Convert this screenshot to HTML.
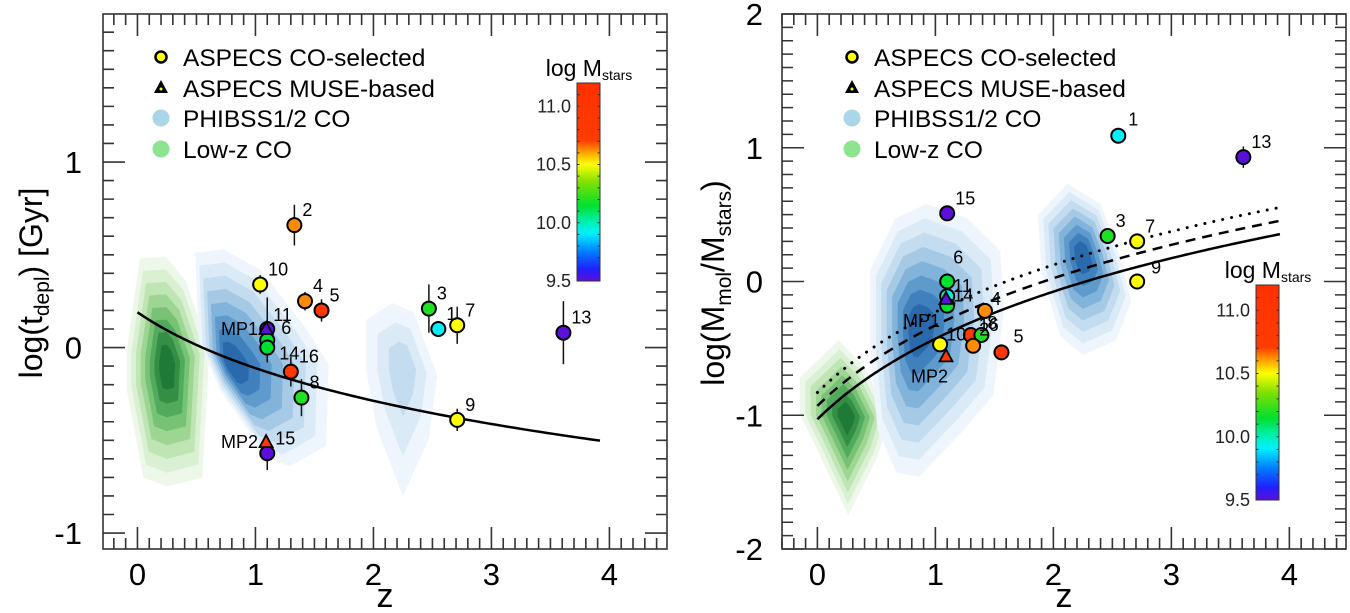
<!DOCTYPE html>
<html><head><meta charset="utf-8"><style>
body{margin:0;background:#fff}
svg{display:block;font-family:"Liberation Sans",sans-serif}
</style></head><body>
<svg id="fig" width="1350" height="613" viewBox="0 0 1350 613">
<defs>
<linearGradient id="cmap" x1="0" y1="1" x2="0" y2="0">
<stop offset="0" stop-color="#5b0fd8"/><stop offset="0.06" stop-color="#2020ff"/>
<stop offset="0.15" stop-color="#0080ff"/><stop offset="0.24" stop-color="#00f0ff"/>
<stop offset="0.3" stop-color="#00f0b0"/><stop offset="0.38" stop-color="#00e030"/>
<stop offset="0.5" stop-color="#80e000"/><stop offset="0.59" stop-color="#ffff00"/>
<stop offset="0.65" stop-color="#ffa000"/><stop offset="0.71" stop-color="#ff3c00"/>
<stop offset="1" stop-color="#ff3000"/>
</linearGradient>
</defs>
</svg>
<script>
// ---------- data ----------
const leftNames = ["2","10","4","5","3","1","7","13","11","6","14","16","8","9","15"];
const leftZ     = [1.33,1.04,1.42,1.56,2.47,2.55,2.71,3.61,1.10,1.10,1.10,1.30,1.39,2.71,1.10];
const leftV     = [0.66,0.34,0.25,0.20,0.21,0.10,0.12,0.08,0.10,0.04,0.00,-0.13,-0.27,-0.39,-0.57];
const leftErr   = [0.11,0.05,0.05,0.06,0.13,0.03,0.10,0.17,0.17,0.05,0.08,0.08,0.10,0.06,0.09];
const leftMass  = [10.62,10.5,10.62,10.9,10.2,9.9,10.5,9.5,9.5,10.15,10.15,10.9,10.2,10.5,9.5];
const leftTriNames = ["MP1","MP2"];
const leftTriZ  = [1.09,1.09];
const leftTriV  = [0.10,-0.51];
const leftTriMass = [9.5,10.9];

const rightNames = ["1","13","15","3","7","9","6","11","14","4","16","8","2","10","5"];
const rightZ     = [2.55,3.61,1.10,2.46,2.71,2.71,1.10,1.10,1.10,1.42,1.30,1.39,1.32,1.04,1.56];
const rightV     = [1.09,0.93,0.51,0.34,0.30,0.00,0.00,-0.11,-0.18,-0.22,-0.40,-0.40,-0.48,-0.47,-0.53];
const rightErr   = [0.02,0.08,0.05,0.06,0.05,0.02,0.03,0.03,0.05,0.03,0.03,0.03,0.03,0.03,0.03];
const rightMass  = [9.9,9.5,9.5,10.2,10.5,10.5,10.15,9.95,10.15,10.62,10.9,10.2,10.62,10.5,10.9];
const rightTriNames = ["MP1","MP2"];
const rightTriZ  = [1.09,1.09];
const rightTriV  = [-0.13,-0.56];
const rightTriMass = [9.5,10.9];

const xTicks = [0,1,2,3,4];
const leftYTicks = [-1,0,1];
const rightYTicks = [-2,-1,0,1,2];
const cbarTicks = [9.5,10.0,10.5,11.0];

const leftModel = [0.19,-1.0];
const rightModelIntercepts = [-1.03,-0.93,-0.83];
const rightModelSlope = 2.0;

const lGreen = [[-0.09,-0.01],[0.02,0.48],[0.24,0.49],[0.41,0.36],[0.61,-0.02],[0.55,-0.70],[0.25,-0.75],[0.05,-0.70],[-0.09,-0.23]];
const lGreenC = [0.25,-0.1];
const lBlue1 = [[0.49,0.51],[0.73,0.53],[1.04,0.42],[1.41,0.12],[1.62,-0.09],[1.60,-0.53],[1.29,-0.64],[1.10,-0.59],[0.70,-0.23],[0.52,0.04]];
const lBlue1C = [0.78,-0.09];
const lBlue2 = [[1.94,0.15],[2.16,0.24],[2.34,0.19],[2.54,-0.15],[2.47,-0.49],[2.25,-0.80],[2.03,-0.44],[1.94,-0.13]];
const lBlue2C = [2.25,-0.1];
const rGreen = [[-0.15,-0.72],[0.18,-0.44],[0.39,-0.63],[0.61,-1.02],[0.51,-1.31],[0.26,-1.75],[0.01,-1.28],[-0.15,-0.99]];
const rGreenC = [0.25,-1.01];
const rBlue1 = [[0.45,0.09],[0.66,0.47],[0.92,0.58],[1.27,0.47],[1.55,0.23],[1.58,-0.23],[1.49,-0.85],[1.24,-1.11],[0.86,-1.46],[0.67,-1.43],[0.51,-1.11],[0.45,-0.53]];
const rBlue1C = [0.85,-0.35];
const rBlue2 = [[1.87,0.50],[2.12,0.73],[2.40,0.58],[2.56,0.20],[2.66,-0.15],[2.53,-0.44],[2.25,-0.55],[2.06,-0.41],[1.90,0.06]];
const rBlue2C = [2.25,0.20];

// ---------- helpers ----------
const NS="http://www.w3.org/2000/svg";
const svg=document.getElementById('fig');
function mk(tag,attrs,parent){const e=document.createElementNS(NS,tag);for(const k in attrs)e.setAttribute(k,attrs[k]);(parent||svg).appendChild(e);return e;}
function cmap(m){
  const st=[[9.5,[91,15,216]],[9.6,[32,32,255]],[9.75,[0,128,255]],[9.9,[0,240,255]],[10.0,[0,240,176]],[10.15,[0,224,48]],[10.35,[128,224,0]],[10.5,[255,255,0]],[10.6,[255,160,0]],[10.7,[255,60,0]],[11.2,[255,48,0]]];
  if(m<=st[0][0])return 'rgb('+st[0][1]+')';
  for(let i=1;i<st.length;i++){if(m<=st[i][0]){const t=(m-st[i-1][0])/(st[i][0]-st[i-1][0]);const c=st[i-1][1].map((a,j)=>Math.round(a+(st[i][1][j]-a)*t));return 'rgb('+c+')';}}
  return 'rgb('+st[st.length-1][1]+')';
}
const blues=['#eef5fc','#dbeaf7','#c4dcf0','#a6cae6','#82b3da','#5e9acc','#3f80bd','#2a69ab'];
const greens=['#eef8ea','#d9f0d2','#bfe5b5','#9dd593','#78c276','#52aa5c','#348f45','#1e7a36'];

function panel(cfg){
  const {x0,x1,y0,y1,zmin,zmax,vmin,vmax,id}=cfg;
  const X=z=>x0+(z-zmin)/(zmax-zmin)*(x1-x0);
  const Y=v=>y1-(v-vmin)/(vmax-vmin)*(y1-y0);
  const g=mk('g',{});
  
  
  return {X,Y,g};
}
function contour(P,poly,c,cols,name){
  const g=mk('g',{},P.g);
  
  
  const n=cols.length;
  cols.forEach((col,i)=>{
    const k=1-i/(n)*0.92;
    const pts=poly.map(p=>P.X(c[0]+(p[0]-c[0])*k)+','+P.Y(c[1]+(p[1]-c[1])*k)).join(' ');
    const pg=mk('polygon',{points:pts,fill:col,stroke:'none'},g);
    
    
  });
}
function frame(P,cfg,yTicks,yMinorStep,yLabelX){
  const {x0,x1,y0,y1,zmin,zmax,vmin,vmax,id}=cfg;
  const g=mk('g',{stroke:'#333','stroke-width':1.6,fill:'none'},P.g);
  
  
  mk('rect',{x:x0,y:y0,width:x1-x0,height:y1-y0},g);
  for(let z=Math.ceil(zmin*10)/10;z<=zmax+1e-9;z+=0.1){
    const zr=Math.round(z*10)/10;const maj=Math.abs(zr-Math.round(zr))<1e-6;const L=maj?22:11;const x=P.X(zr);
    mk('path',{d:`M${x},${y1}v${-L}M${x},${y0}v${L}`},g);
  }
  for(let v=Math.ceil(vmin/yMinorStep)*yMinorStep;v<=vmax+1e-9;v+=yMinorStep){
    const vr=Math.round(v*10)/10;const maj=Math.abs(vr-Math.round(vr))<1e-6;const L=maj?22:11;const y=P.Y(vr);
    mk('path',{d:`M${x0},${y}h${L}M${x1},${y}h${-L}`},g);
  }
  xTicks.forEach(t=>{const e=mk('text',{x:P.X(t),y:y1+36,'font-size':31,'text-anchor':'middle',fill:'#000'},P.g);e.textContent=t;
    });
  yTicks.forEach(t=>{const e=mk('text',{x:yLabelX,y:P.Y(t)+11,'font-size':31,'text-anchor':'end',fill:'#000'},P.g);e.textContent=t;
    });
  const xt=mk('text',{x:(x0+x1)/2,y:607,'font-size':34,'text-anchor':'middle',fill:'#000'},P.g);xt.textContent='z';
  
}
function errbars(P,zs,vs,es,name){
  zs.forEach((z,i)=>{const l=mk('line',{x1:P.X(z),x2:P.X(z),y1:P.Y(vs[i]-es[i]),y2:P.Y(vs[i]+es[i]),stroke:'#111','stroke-width':1.5},P.g);
    });
}
function points(P,names,zs,vs,ms,lab,name){
  zs.forEach((z,i)=>{
    const c=mk('circle',{cx:P.X(z),cy:P.Y(vs[i]),r:7,fill:cmap(ms[i]),stroke:'#000','stroke-width':2},P.g);
    
    
  });
  zs.forEach((z,i)=>{
    const o=lab[i]||[8,-9];
    const t=mk('text',{x:P.X(z)+o[0],y:P.Y(vs[i])+o[1],'font-size':18,fill:'#000'},P.g);t.textContent=names[i];
    
    
  });
}
function tris(P,names,zs,vs,ms,lab,name){
  zs.forEach((z,i)=>{
    const x=P.X(z),y=P.Y(vs[i]);
    const p=mk('polygon',{points:`${x},${y-7} ${x-6.5},${y+5} ${x+6.5},${y+5}`,fill:cmap(ms[i]),stroke:'#000','stroke-width':1.8},P.g);
    
    
    const o=lab[i];
    const t=mk('text',{x:x+o[0],y:y+o[1],'font-size':18,'text-anchor':'end',fill:'#000'},P.g);t.textContent=names[i];
    
    
  });
}
function legend(x,y,id){
  const g=mk('g',{},svg);
  const rows=['ASPECS CO-selected','ASPECS MUSE-based','PHIBSS1/2 CO','Low-z CO'];
  const dy=[0,31,61,92];
  mk('circle',{cx:x,cy:y,r:5.5,fill:'#ffff00',stroke:'#000','stroke-width':2.5},g);
  mk('polygon',{points:`${x},${y+dy[1]-8} ${x-7},${y+dy[1]+5} ${x+7},${y+dy[1]+5}`,fill:'#000'},g);
  mk('circle',{cx:x,cy:y+dy[1]+1,r:1.5,fill:'#ff0'},g);
  mk('circle',{cx:x,cy:y+dy[2],r:8.5,fill:'#a9d6e8'},g);
  mk('circle',{cx:x,cy:y+dy[3],r:8.5,fill:'#8de48f'},g);
  rows.forEach((r,i)=>{const t=mk('text',{x:x+22,y:y+dy[i]+9,'font-size':24.5,fill:'#000'},g);t.textContent=r;
    });
}
function colorbar(x,y0,y1,id){
  const g=mk('g',{},svg);
  mk('rect',{x:x,y:y0,width:23,height:y1-y0,fill:'url(#cmap)',stroke:'#333','stroke-width':1},g);
  const Yc=m=>y1-(m-9.5)/(11.2-9.5)*(y1-y0);
  for(let m=9.5;m<=11.2;m+=0.1){mk('path',{d:`M${x},${Yc(m)}h2.5M${x+23},${Yc(m)}h-2.5`,stroke:'#333','stroke-width':1},g);}
  cbarTicks.forEach(t=>{const e=mk('text',{x:x-6,y:Yc(t)+6,'font-size':18,'text-anchor':'end',fill:'#222'},g);e.textContent=t.toFixed(1);
    });
  const tt=mk('text',{x:x+12,y:y0-7,'font-size':23,'text-anchor':'middle',fill:'#000'},g);
  tt.innerHTML='log M<tspan font-size="14" dy="4">stars</tspan>';
  
}

// ---------- left panel ----------
const Lcfg={x0:103,x1:667,y0:14,y1:549,zmin:-0.292,zmax:4.488,vmin:-1.086,vmax:1.798,id:'left'};
const L=panel(Lcfg);
contour(L,lGreen,lGreenC,greens,'lowz-contour-left');
contour(L,lBlue1,lBlue1C,blues,'phibss-contour-z1-left');
contour(L,lBlue2,lBlue2C,blues.slice(0,3),'phibss-contour-z2-left');
frame(L,Lcfg,leftYTicks,0.1,82);
{
  let d='';for(let z=0;z<=3.96;z+=0.04){const v=leftModel[0]+leftModel[1]*Math.log10(1+z);d+=(d?'L':'M')+L.X(z)+','+L.Y(v);}
  const p=mk('path',{d,stroke:'#000','stroke-width':2.5,fill:'none'},L.g);
  
}
errbars(L,leftZ,leftV,leftErr,'left');
const leftLab={8:[6,-8],9:[14,-6],10:[12,12]};
points(L,leftNames,leftZ,leftV,leftMass,leftLab,'left');
tris(L,leftTriNames,leftTriZ,leftTriV,leftTriMass,[[-8,6],[-8,6]],'left');
legend(161,57,'left');
colorbar(577,83,281,'left');
{const t=mk('text',{x:0,y:0,'font-size':32,'text-anchor':'middle',fill:'#000',transform:'translate(42,283) rotate(-90)'});
 t.innerHTML='log(t<tspan font-size="21" dy="7">depl</tspan><tspan dy="-7">) [Gyr]</tspan>';
 }

// ---------- right panel ----------
const Rcfg={x0:782,x1:1346,y0:14,y1:549,zmin:-0.3,zmax:4.48,vmin:-2,vmax:2,id:'right'};
const R=panel(Rcfg);
contour(R,rGreen,rGreenC,greens,'lowz-contour-right');
contour(R,rBlue1,rBlue1C,blues,'phibss-contour-z1-right');
contour(R,rBlue2,rBlue2C,blues,'phibss-contour-z2-right');
frame(R,Rcfg,rightYTicks,0.1,763);
['','10,7','3,7'].forEach((da,k)=>{
  let d='';for(let z=0;z<=3.96;z+=0.04){const v=rightModelIntercepts[k]+rightModelSlope*Math.log10(1+z);d+=(d?'L':'M')+R.X(z)+','+R.Y(v);}
  const p=mk('path',{d,stroke:'#000','stroke-width':k==2?3:2.5,fill:'none','stroke-dasharray':da,'stroke-linecap':k==2?'round':'butt'},R.g);
  if(k==2)p.setAttribute('stroke-dasharray','0.1,9');
  
  
});
errbars(R,rightZ,rightV,rightErr,'right');
const rightLab={0:[10,-10],6:[6,-18],7:[6,-4],8:[6,-4],9:[6,-6],10:[8,-4],11:[6,-6],12:[6,-10],13:[6,-4],14:[12,-10],5:[14,-8]};
points(R,rightNames,rightZ,rightV,rightMass,rightLab,'right');
tris(R,rightTriNames,rightTriZ,rightTriV,rightTriMass,[[-6,28],[2,26]],'right');
legend(852,57,'right');
colorbar(1256,285,500,'right');
{const t=mk('text',{x:0,y:0,'font-size':32,'text-anchor':'middle',fill:'#000',transform:'translate(724,283) rotate(-90)'});
 t.innerHTML='log(M<tspan font-size="21" dy="7">mol</tspan><tspan dy="-7">/M</tspan><tspan font-size="21" dy="7">stars</tspan><tspan dy="-7">)</tspan>';
 }
</script>
</body></html>
